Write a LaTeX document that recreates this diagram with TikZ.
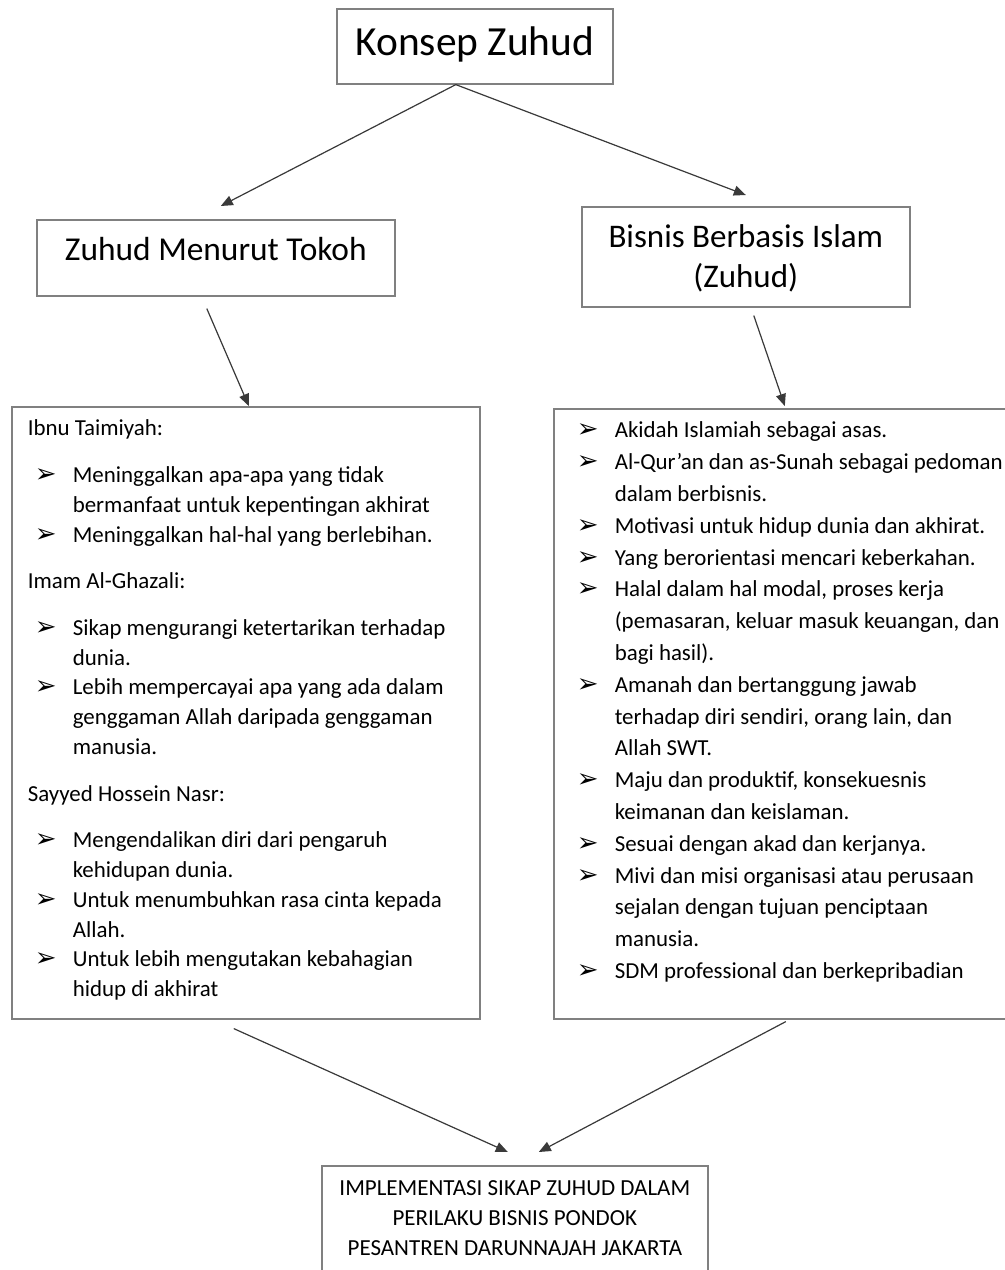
\documentclass[tikz,border=0pt]{standalone}
\usepackage{fontspec}
\setmainfont{Carlito}
\newfontfamily\zsym{DejaVu Sans}
\usetikzlibrary{arrows.meta}
\definecolor{zLine}{HTML}{808080}
\definecolor{zInk}{HTML}{3A3A3A}
\newcommand{\zbul}{\makebox[30.5pt][l]{\hspace{11.5pt}{\zsym\fontsize{13}{13}\selectfont ➢}}}
\newcommand{\zitem}{\par\hangindent=30.5pt\hangafter=1\noindent\zbul}
\newcommand{\zhead}[1]{\par\vspace{8.4pt}\noindent\hspace*{8pt}#1\par\vspace{8.4pt}}
\newcommand{\zlist}{\rightskip=0pt plus 1fil\hyphenpenalty=10000\fontsize{11.45}{14.9}\selectfont}

\begin{document}
\begin{tikzpicture}[x=0.5pt, y=-0.5pt, >={Triangle[length=6pt,width=5pt]},
  box/.style={draw=zLine, line width=0.8pt, inner sep=0pt, anchor=north west},
  arr/.style={->, draw=zInk, fill=zInk, line width=0.6pt}]
  \clip (0,0) rectangle (1005,1270);
  % top level
  \node[box] (konsep) at (336,8) {\parbox[c][37.5pt][t]{138pt}{\centering
    \fontsize{20.7}{24}\selectfont\rule{0pt}{23.5pt}Konsep Zuhud}};
  \node[box] (tokoh) at (36,219) {\parbox[c][38pt][t]{179pt}{\centering
    \fontsize{16.7}{19}\selectfont\rule{0pt}{20.5pt}Zuhud Menurut Tokoh}};
  \node[box] (bisnis) at (581,206) {\parbox[c][50pt][t]{164pt}{\centering
    \fontsize{16.5}{20}\selectfont\rule{0pt}{20.5pt}Bisnis Berbasis Islam\\(Zuhud)}};
  % the two lists
  \node[box] (tokohlist) at (11,406) {\parbox[c][306pt][t]{234pt}{\zlist
    \noindent\rule{0pt}{14.5pt}\hspace*{8pt}Ibnu Taimiyah:\par\vspace{8.4pt}
    \zitem Meninggalkan apa-apa yang tidak\\bermanfaat untuk kepentingan akhirat
    \zitem Meninggalkan hal-hal yang berlebihan.
    \zhead{Imam Al-Ghazali:}
    \zitem Sikap mengurangi ketertarikan terhadap\\dunia.
    \zitem Lebih mempercayai apa yang ada dalam\\genggaman Allah daripada genggaman\\manusia.
    \zhead{Sayyed Hossein Nasr:}
    \zitem Mengendalikan diri dari pengaruh\\kehidupan dunia.
    \zitem Untuk menumbuhkan rasa cinta kepada\\Allah.
    \zitem Untuk lebih mengutakan kebahagian\\hidup di akhirat\par}};
  \node[box] (bisnislist) at (553,408) {\parbox[c][305pt][t]{231pt}{\zlist
    \fontsize{11.45}{15.9}\selectfont
    \noindent\rule{0pt}{14.5pt}\zbul Akidah Islamiah sebagai asas.
    \zitem Al-Qur’an dan as-Sunah sebagai pedoman\\dalam berbisnis.
    \zitem Motivasi untuk hidup dunia dan akhirat.
    \zitem Yang berorientasi mencari keberkahan.
    \zitem Halal dalam hal modal, proses kerja\\(pemasaran, keluar masuk keuangan, dan\\bagi hasil).
    \zitem Amanah dan bertanggung jawab\\terhadap diri sendiri, orang lain, dan\\Allah SWT.
    \zitem Maju dan produktif, konsekuesnis\\keimanan dan keislaman.
    \zitem Sesuai dengan akad dan kerjanya.
    \zitem Mivi dan misi organisasi atau perusaan\\sejalan dengan tujuan penciptaan\\manusia.
    \zitem SDM professional dan berkepribadian\par}};
  % result
  \node[box] (impl) at (321,1165) {\parbox[c][62.5pt][t]{193pt}{\centering
    \fontsize{11.5}{15}\selectfont\rule{0pt}{15pt}IMPLEMENTASI SIKAP ZUHUD DALAM\\
    PERILAKU BISNIS PONDOK\\PESANTREN DARUNNAJAH JAKARTA}};
  \draw[arr] ([xshift=-9.5pt]konsep.south) -- ([xshift=2.5pt,yshift=6.5pt]tokoh.north);
  \draw[arr] ([xshift=-9.5pt]konsep.south) -- ([yshift=5.5pt]bisnis.north);
  \draw[arr] ([xshift=-4.5pt,yshift=-6pt]tokoh.south) -- ([xshift=1.5pt]tokohlist.north);
  \draw[arr] ([xshift=4pt,yshift=-4pt]bisnis.south) -- ([yshift=1pt]bisnislist.north);
  \draw[arr] ([xshift=-6pt,yshift=-4.5pt]tokohlist.south) -- ([xshift=-3.5pt,yshift=6.5pt]impl.north);
  \draw[arr] ([xshift=0.5pt,yshift=-1pt]bisnislist.south) -- ([xshift=12pt,yshift=6.5pt]impl.north);
\end{tikzpicture}
\end{document}
